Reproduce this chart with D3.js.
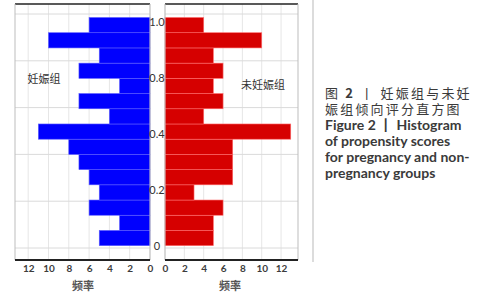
<!DOCTYPE html>
<html>
<head>
<meta charset="utf-8">
<script src="https://cdn.jsdelivr.net/npm/d3@7"></script>
<style>
    body { margin: 0; background: #fff; }
    svg { display: block; }
</style>
</head>
<body>
<svg id="drawing_region"></svg>
<script>
// frequency per propensity score bin, bottom (score 0) to top (score 1.0)
const binStart = 0.01;
const binWidth = 0.065;
const pregnant = [5, 3, 6, 5, 6, 7, 8, 11, 4, 7, 3, 7, 5, 10, 6];
const nonPregnant = [5, 5, 6, 3, 7, 7, 7, 13, 4, 6, 5, 6, 5, 10, 4];
const xTicks = [0, 2, 4, 6, 8, 10, 12];
const yGridTicks = [0, 0.2, 0.4, 0.6, 0.8, 1.0];
const yLabels = ["1.0", "0.8", "0.4", "0.2", "0"];
const groupNames = ["妊娠组", "未妊娠组"];
const axisTitle = "频率";
// caption lines, each a list of [text, bold] pieces
const caption = [
    {cn: true, parts: [["图 ", false], ["2", true], [" 丨 妊娠组与未妊", false]]},
    {cn: true, parts: [["娠组倾向评分直方图", false]]},
    {cn: false, parts: [["Figure 2 丨 Histogram", true]]},
    {cn: false, parts: [["of propensity scores", true]]},
    {cn: false, parts: [["for pregnancy and non-", true]]},
    {cn: false, parts: [["pregnancy groups", true]]}
];

const svg = d3.select('#drawing_region')
    .attr('width', 481)
    .attr('height', 300);

svg.append('rect').attr('width', 481).attr('height', 300).attr('fill', '#fff');

const plotTop = 4, plotBottom = 260;
const yscale = d3.scaleLinear().domain([0, 1]).range([248, 14]);
const ylabelScale = d3.scalePoint().domain(yLabels).range([22, 246]);

const panels = [
    { data: pregnant, left: 15, right: 150, xscale: d3.scaleLinear().domain([13.3, 0]).range([15, 150]),
      color: '#0000fe', edge: '#5b5bff', name: groupNames[0], nameX: 44, nameY: 79, titleX: 83 },
    { data: nonPregnant, left: 165, right: 298, xscale: d3.scaleLinear().domain([0, 13.75]).range([165, 298]),
      color: '#d60000', edge: '#ff6a6a', name: groupNames[1], nameX: 263, nameY: 85, titleX: 230 }
];

panels.forEach( p => {
    const g = svg.append('g');

    // grid
    g.selectAll('.vgrid')
        .data(xTicks)
        .enter()
        .append('line')
        .attr('x1', d => p.xscale(d)).attr('x2', d => p.xscale(d))
        .attr('y1', plotTop).attr('y2', plotBottom)
        .attr('stroke', '#e6e6e6')
        .attr('stroke-width', 1);

    g.selectAll('.hgrid')
        .data(yGridTicks)
        .enter()
        .append('line')
        .attr('x1', p.left).attr('x2', p.right)
        .attr('y1', d => yscale(d)).attr('y2', d => yscale(d))
        .attr('stroke', '#dadada')
        .attr('stroke-width', 1);

    // bars
    g.selectAll('rect.bar')
        .data(p.data)
        .enter()
        .append('rect')
        .attr('class', 'bar')
        .attr('x', d => Math.min(p.xscale(0), p.xscale(d)))
        .attr('width', d => Math.abs(p.xscale(d) - p.xscale(0)))
        .attr('y', (d, i) => yscale(binStart + (i + 1) * binWidth))
        .attr('height', (d, i) => yscale(binStart + i * binWidth) - yscale(binStart + (i + 1) * binWidth))
        .attr('fill', p.color)
        .attr('stroke', p.edge)
        .attr('stroke-width', 0.6);

    // frame
    g.append('line')
        .attr('x1', p.left).attr('x2', p.right)
        .attr('y1', plotTop).attr('y2', plotTop)
        .attr('stroke', '#222').attr('stroke-width', 1.5);
    g.append('line')
        .attr('x1', p.left).attr('x2', p.left)
        .attr('y1', plotTop).attr('y2', plotBottom)
        .attr('stroke', '#bdbdbd').attr('stroke-width', 1);
    g.append('line')
        .attr('x1', p.right).attr('x2', p.right)
        .attr('y1', plotTop).attr('y2', plotBottom)
        .attr('stroke', '#bdbdbd').attr('stroke-width', 1);

    // x axis
    const xaxis = d3.axisBottom(p.xscale)
        .tickValues(xTicks)
        .tickSize(0)
        .tickPadding(5);
    const ag = g.append('g')
        .attr('transform', `translate(0, ${plotBottom})`)
        .call(xaxis);
    ag.select('.domain')
        .attr('d', `M${p.left},0H${p.right}`)
        .attr('stroke', '#222')
        .attr('stroke-width', 2);
    ag.selectAll('text')
        .attr('font-family', 'Lato, sans-serif')
        .attr('font-weight', 'bold')
        .attr('font-size', '10px')
        .attr('fill', '#3c3c3c');

    g.append('text')
        .attr('x', p.titleX)
        .attr('y', 290)
        .attr('text-anchor', 'middle')
        .attr('font-family', '"Noto Sans CJK SC", sans-serif')
        .attr('font-size', '11px')
        .attr('font-weight', 'bold')
        .attr('fill', '#555')
        .text(axisTitle);

    g.append('text')
        .attr('x', p.nameX)
        .attr('y', p.nameY + 4)
        .attr('text-anchor', 'middle')
        .attr('font-family', '"Noto Sans CJK SC", sans-serif')
        .attr('font-size', '11px')
        .attr('fill', '#333')
        .text(p.name);
});

// centre score labels
svg.selectAll('.ylabel')
    .data(yLabels)
    .enter()
    .append('text')
    .attr('x', 157)
    .attr('y', d => ylabelScale(d) + 4)
    .attr('text-anchor', 'middle')
    .attr('font-family', 'Lato, sans-serif')
    .attr('font-size', '11px')
    .attr('fill', '#333')
    .text(d => d);

// separator
svg.append('line')
    .attr('x1', 313).attr('x2', 313)
    .attr('y1', 0).attr('y2', 262)
    .attr('stroke', '#d0d0d0')
    .attr('stroke-width', 1.5);

// caption
const lines = svg.selectAll('.caption')
    .data(caption)
    .enter()
    .append('text')
    .attr('x', 325)
    .attr('y', (d, i) => 98 + i * 16)
    .attr('font-family', d => d.cn ? '"Noto Sans CJK SC", sans-serif' : 'Lato, sans-serif')
    .attr('font-size', d => d.cn ? '13px' : '14px')
    .attr('letter-spacing', d => d.cn ? '2.2px' : '0px')
    .attr('fill', '#3a3a3a');

lines.selectAll('tspan')
    .data(d => d.parts)
    .enter()
    .append('tspan')
    .attr('font-weight', d => d[1] ? 'bold' : 'normal')
    .text(d => d[0]);
</script>
</body>
</html>
